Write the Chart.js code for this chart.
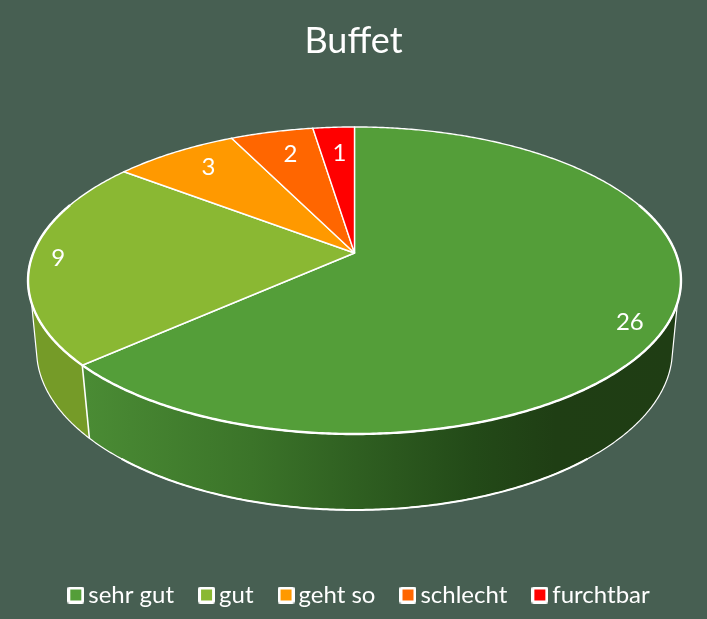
<!DOCTYPE html>
<html>
<head>
<meta charset="utf-8">
<style>
html,body{margin:0;padding:0;background:#475f52;}
canvas{display:block;}
</style>
<script src="https://cdn.jsdelivr.net/npm/chart.js@4"></script>
</head>
<body>
<canvas id="c" width="707" height="619"></canvas>
<script>
const chartTitle = 'Buffet';
const categories = ['sehr gut', 'gut', 'geht so', 'schlecht', 'furchtbar'];
const votes = [26, 9, 3, 2, 1];
const sliceColors = ['#549e39', '#8ab833', '#ff9900', '#ff6600', '#ff0000'];
const wallColors = ['#2f5e21', '#759b28', '#b56c00', '#b54800', '#b50000'];

// perspective disc geometry
const TOP = {cx: 354.5, cy: 253, a: 148.6, b: 321.2, k: 0.179};
const BOTTOM = {cx: 354.5, cy: 321.3, a: 154.9, b: 312.8, k: 0.179};
const deg = Math.PI / 180;
// silhouette of the side wall (angles from 12 o'clock, clockwise)
const TOP_RIGHT = 108.5 * deg, TOP_LEFT = 251.5 * deg;
const BOT_RIGHT = 104 * deg, BOT_LEFT = 256 * deg;
// label placement
const labelReach = [0.90, 0.917, 0.82, 0.79, 0.766];
const labelTurn = [4.3, 0, 1.3, 0.9, 0.4];
const legendShift = 9;

function project(g, theta, r) {
  const u = Math.sin(theta) * r, v = -Math.cos(theta) * r;
  const d = 1 - g.k * v;
  return [g.cx + g.b * u / d, g.cy + g.a * v / d];
}
function trace(ctx, g, from, to, first) {
  const n = Math.max(2, Math.ceil(Math.abs(to - from) / (0.5 * deg)));
  for (let i = 0; i <= n; i++) {
    const p = project(g, from + (to - from) * i / n, 1);
    if (i === 0 && first) ctx.moveTo(p[0], p[1]); else ctx.lineTo(p[0], p[1]);
  }
}
function sideGradient(ctx) {
  const g = ctx.createLinearGradient(88, 0, 672, 0);
  [[0, '#4a8b34'], [0.28, '#3b7429'], [0.46, '#2f5f21'], [0.66, '#234a18'], [0.8, '#1f3e14'], [1, '#1f3d14']]
    .forEach(s => g.addColorStop(s[0], s[1]));
  return g;
}

const disc3d = {
  id: 'disc3d',
  afterLayout(chart) {
    chart.legend.left += legendShift;
    chart.legend.right += legendShift;
  },
  beforeDatasetsDraw(chart) {
    const ctx = chart.ctx, arcs = chart.getDatasetMeta(0).data;
    const ang = a => a + Math.PI / 2;
    const t1 = ang(arcs[0].endAngle);
    ctx.save();
    ctx.lineJoin = 'round';
    ctx.strokeStyle = '#ffffff';

    // side wall of the first slice
    ctx.beginPath();
    trace(ctx, TOP, TOP_RIGHT, t1, true);
    trace(ctx, BOTTOM, t1, BOT_RIGHT, false);
    ctx.closePath();
    ctx.fillStyle = sideGradient(ctx);
    ctx.fill();
    // side wall of the second slice
    ctx.beginPath();
    trace(ctx, TOP, t1, TOP_LEFT, true);
    trace(ctx, BOTTOM, BOT_LEFT, t1, false);
    ctx.closePath();
    ctx.fillStyle = wallColors[1];
    ctx.fill();
    // wall outlines: thin silhouette, heavier lower rim
    ctx.lineWidth = 1.2;
    ctx.beginPath();
    ctx.moveTo(...project(TOP, TOP_LEFT, 1));
    trace(ctx, BOTTOM, BOT_LEFT, BOT_RIGHT, false);
    ctx.lineTo(...project(TOP, TOP_RIGHT, 1));
    ctx.stroke();
    ctx.lineWidth = 2;
    ctx.beginPath();
    trace(ctx, BOTTOM, 140 * deg, 220 * deg, true);
    ctx.stroke();
    ctx.lineWidth = 1.6;
    ctx.beginPath();
    ctx.moveTo(...project(TOP, t1, 1));
    ctx.lineTo(...project(BOTTOM, t1, 1));
    ctx.stroke();

    // top face
    arcs.forEach((arc, i) => {
      const a = ang(arc.startAngle), b = ang(arc.endAngle);
      ctx.beginPath();
      ctx.moveTo(TOP.cx, TOP.cy);
      trace(ctx, TOP, a, b, false);
      ctx.closePath();
      ctx.fillStyle = sliceColors[i];
      ctx.fill();
      ctx.lineWidth = 1.4;
      ctx.stroke();
    });
    // front rim, a little heavier
    ctx.lineWidth = 2.4;
    ctx.beginPath();
    trace(ctx, TOP, 70 * deg, 290 * deg, true);
    ctx.stroke();

    // value labels
    ctx.fillStyle = '#ffffff';
    ctx.font = '24px Lato';
    ctx.textAlign = 'center';
    ctx.textBaseline = 'middle';
    arcs.forEach((arc, i) => {
      const mid = (ang(arc.startAngle) + ang(arc.endAngle)) / 2 + labelTurn[i] * deg;
      const p = project(TOP, mid, labelReach[i]);
      ctx.fillText(String(votes[i]), p[0], p[1]);
    });
    ctx.restore();
    return false;
  }
};

function swatch(color) {
  const c = document.createElement('canvas');
  c.width = 17; c.height = 17;
  const x = c.getContext('2d');
  x.fillStyle = '#ffffff';
  x.beginPath(); x.roundRect(0, 0, 17, 17, 2.5); x.fill();
  x.fillStyle = color;
  x.fillRect(3, 3, 11, 11);
  return c;
}
const swatches = sliceColors.map(swatch);

new Chart(document.getElementById('c'), {
  type: 'pie',
  data: {
    labels: categories,
    datasets: [{data: votes, backgroundColor: sliceColors, borderColor: '#ffffff'}]
  },
  options: {
    responsive: false,
    animation: false,
    devicePixelRatio: 1,
    layout: {padding: {bottom: 2}},
    plugins: {
      title: {
        display: true,
        text: chartTitle,
        color: '#ffffff',
        font: {family: 'Lato', size: 36, weight: 'normal'},
        padding: {top: 20, bottom: 10}
      },
      legend: {
        position: 'bottom',
        labels: {
          color: '#ffffff',
          font: {family: 'Lato', size: 24},
          boxWidth: 1,
          boxHeight: 17,
          padding: 32,
          usePointStyle: true,
          generateLabels: chart => categories.map((t, i) => ({
            text: t,
            fontColor: '#ffffff',
            pointStyle: swatches[i],
            fillStyle: sliceColors[i],
            strokeStyle: '#ffffff',
            lineWidth: 0,
            hidden: false,
            index: i
          }))
        }
      },
      tooltip: {enabled: false}
    }
  },
  plugins: [disc3d]
});
</script>
</body>
</html>
